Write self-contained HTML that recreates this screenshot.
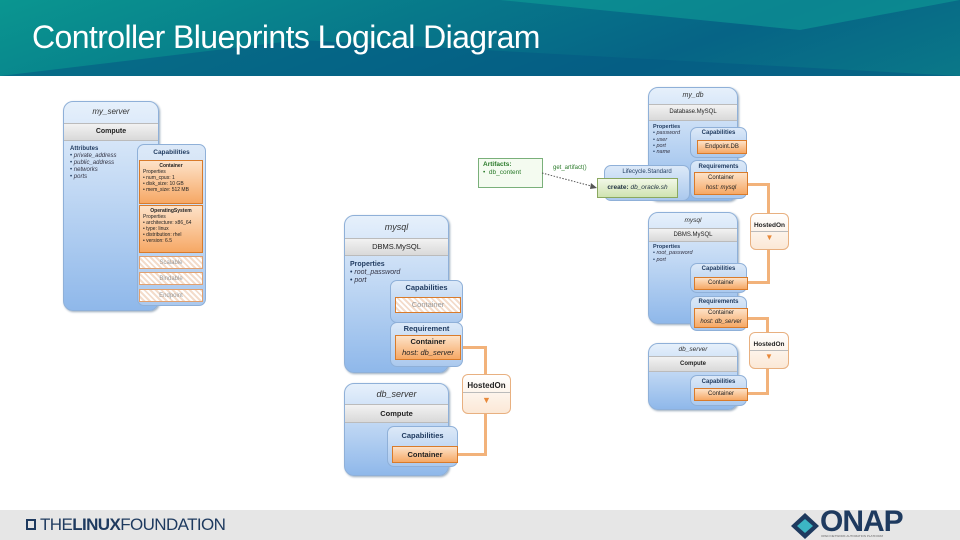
<!DOCTYPE html>
<html><head><meta charset="utf-8"><style>
*{margin:0;padding:0;box-sizing:border-box}
body{width:960px;height:540px;position:relative;overflow:hidden;background:#fff;font-family:"Liberation Sans",sans-serif}
.a{position:absolute}
.node{position:absolute;border:1px solid #8fb0d8;border-radius:10px;background:linear-gradient(#e6f0fb,#8fb8ea);box-shadow:1px 1px 2px #9ab}
.t{position:absolute;left:0;right:0;text-align:center;font-style:italic;color:#333}
.band{position:absolute;left:0;right:0;background:linear-gradient(#f2f2f2,#d9d9d9);border-top:1px solid #bbb;border-bottom:1px solid #bbb;text-align:center;font-weight:bold;color:#222}
.cap{position:absolute;border:1px solid #8fb0d8;border-radius:7px;background:linear-gradient(#dce9f8,#abc9ee)}
.cap b{display:block;text-align:center;color:#1f3a5f}
.or{position:absolute;border:1px solid #d97b2b;background:linear-gradient(#fde2c8,#f6a865);text-align:center;color:#222}
.hat{position:absolute;border:1px solid #e0a070;background:repeating-linear-gradient(45deg,#fff 0 2px,#f3dccb 2px 4px);text-align:center;color:#999}
.ho{position:absolute;border:1px solid #e8b080;border-radius:6px;background:linear-gradient(#fff,#fbe8d6);text-align:center;font-weight:bold;color:#222}
.ln{position:absolute;background:#f2b27a}
.txt{position:absolute;color:#1f3a5f;line-height:1.15}
.txt i{color:#334}
</style></head><body>
<!-- header -->
<div class="a" style="left:0;top:0;width:960px;height:76px;background:linear-gradient(160deg,#0a9690 0%,#07788a 40%,#066486 70%,#0a7888 100%)"></div>
<svg class="a" style="left:0;top:0" width="960" height="76"><polygon points="0,76 300,40 960,76" fill="#055a84" opacity=".6"/><polygon points="500,0 800,30 960,0" fill="#0fa59a" opacity=".5"/></svg>
<div class="a" style="left:32px;top:19px;font-size:32px;color:#fff;letter-spacing:-0.6px">Controller Blueprints Logical Diagram</div>

<!-- my_server -->
<div class="node" style="left:63px;top:101px;width:96px;height:210px">
<div class="t" style="top:5px;font-size:8px">my_server</div>
<div class="band" style="top:21px;height:18px;font-size:7px;line-height:16px">Compute</div>
<div class="txt" style="left:6px;top:44px;font-size:6px"><b>Attributes</b><br>• <i>private_address</i><br>• <i>public_address</i><br>• <i>networks</i><br>• <i>ports</i></div>
</div>
<div class="cap" style="left:137px;top:144px;width:69px;height:162px"><b style="font-size:6.5px;margin-top:4px">Capabilities</b></div>
<div class="or" style="left:139px;top:160px;width:64px;height:44px;text-align:left;font-size:5px;padding:2px 3px;line-height:1.2"><b style="display:block;text-align:center">Container</b>Properties<br>• num_cpus: 1<br>• disk_size: 10 GB<br>• mem_size: 512 MB</div>
<div class="or" style="left:139px;top:205px;width:64px;height:48px;text-align:left;font-size:5px;padding:2px 3px;line-height:1.2"><b style="display:block;text-align:center">OperatingSystem</b>Properties<br>• architecture: x86_64<br>• type: linux<br>• distribution: rhel<br>• version: 6.5</div>
<div class="hat" style="left:139px;top:256px;width:64px;height:13px;font-size:6px;line-height:12px">Scalable</div>
<div class="hat" style="left:139px;top:272px;width:64px;height:13px;font-size:6px;line-height:12px">Bindable</div>
<div class="hat" style="left:139px;top:289px;width:64px;height:13px;font-size:6px;line-height:12px">Endpoint</div>

<!-- middle connectors -->
<div class="ln" style="left:458px;top:346px;width:29px;height:3px"></div>
<div class="ln" style="left:484px;top:346px;width:3px;height:110px"></div>
<div class="ln" style="left:455px;top:453px;width:32px;height:3px"></div>

<!-- mysql mid -->
<div class="node" style="left:344px;top:215px;width:105px;height:158px">
<div class="t" style="top:6px;font-size:9px">mysql</div>
<div class="band" style="top:22px;height:18px;font-size:7.5px;line-height:16px;font-weight:normal">DBMS.MySQL</div>
<div class="txt" style="left:5px;top:45px;font-size:7px"><b>Properties</b><br>• <i>root_password</i><br>• <i>port</i></div>
</div>
<div class="cap" style="left:390px;top:280px;width:73px;height:43px"><b style="font-size:7.5px;margin-top:2px">Capabilities</b></div>
<div class="hat" style="left:395px;top:297px;width:66px;height:16px;font-size:7.5px;line-height:14px;border-color:#d97b2b">Container</div>
<div class="cap" style="left:390px;top:322px;width:73px;height:45px"><b style="font-size:7.5px;margin-top:1px">Requirement</b></div>
<div class="or" style="left:395px;top:335px;width:66px;height:25px;font-size:7.5px;line-height:11px"><b>Container</b><br><i>host: db_server</i></div>

<!-- db_server mid -->
<div class="node" style="left:344px;top:383px;width:105px;height:93px">
<div class="t" style="top:5px;font-size:9px">db_server</div>
<div class="band" style="top:20px;height:19px;font-size:7.5px;line-height:17px">Compute</div>
</div>
<div class="cap" style="left:387px;top:426px;width:71px;height:41px"><b style="font-size:7.5px;margin-top:4px">Capabilities</b></div>
<div class="or" style="left:392px;top:446px;width:66px;height:17px;font-size:7.5px;line-height:15px;font-weight:bold">Container</div>
<div class="ho" style="left:462px;top:374px;width:49px;height:40px;font-size:8px"><div style="border-bottom:1px solid #bbb;padding:6px 0 2px">HostedOn</div><div style="color:#e8893a;font-size:9px;line-height:14px">▼</div></div>

<!-- right connectors -->
<div class="ln" style="left:746px;top:183px;width:24px;height:3px"></div>
<div class="ln" style="left:767px;top:183px;width:3px;height:101px"></div>
<div class="ln" style="left:746px;top:281px;width:24px;height:3px"></div>
<div class="ln" style="left:746px;top:317px;width:22px;height:3px"></div>
<div class="ln" style="left:766px;top:317px;width:3px;height:78px"></div>
<div class="ln" style="left:746px;top:392px;width:23px;height:3px"></div>

<!-- my_db -->
<div class="node" style="left:648px;top:87px;width:90px;height:114px">
<div class="t" style="top:4px;font-size:7px">my_db</div>
<div class="band" style="top:16px;height:17px;font-size:6px;line-height:15px;font-weight:normal">Database.MySQL</div>
<div class="txt" style="left:4px;top:36px;font-size:5.5px"><b>Properties</b><br>• <i>password</i><br>• <i>user</i><br>• <i>port</i><br>• <i>name</i></div>
</div>
<div class="cap" style="left:690px;top:127px;width:57px;height:31px"><b style="font-size:6px;margin-top:2px">Capabilities</b></div>
<div class="or" style="left:697px;top:140px;width:50px;height:14px;font-size:6px;line-height:12px">Endpoint.DB</div>
<div class="cap" style="left:690px;top:160px;width:57px;height:39px"><b style="font-size:6px;margin-top:3px">Requirements</b></div>
<div class="or" style="left:694px;top:172px;width:54px;height:23px;font-size:6px;line-height:10px">Container<br><i>host: mysql</i></div>
<div class="cap" style="left:604px;top:165px;width:86px;height:36px"><b style="font-size:6px;margin-top:3px;font-weight:normal">Lifecycle.Standard</b></div>
<div class="a" style="left:597px;top:178px;width:81px;height:20px;border:1px solid #8aa860;background:linear-gradient(#f2f8e8,#cfe3b0);font-size:6.5px;line-height:18px;text-align:center;color:#234"><b>create:</b> <i>db_oracle.sh</i></div>
<div class="a" style="left:478px;top:158px;width:65px;height:30px;border:1px solid #7ab07a;background:#f4fbf0;font-size:6.5px;color:#2a7a2a;padding:2px 4px;line-height:1.25"><b>Artifacts:</b><br>•&nbsp; db_content</div>
<svg class="a" style="left:540px;top:168px" width="60" height="24"><line x1="2" y1="5" x2="55" y2="19" stroke="#555" stroke-width="1" stroke-dasharray="1.5,1.5"/><polygon points="57,20 51,15 50,21" fill="#555"/></svg>
<div class="a" style="left:553px;top:165px;font-size:6px;color:#2a7a2a">get_artifact()</div>

<!-- mysql right -->
<div class="node" style="left:648px;top:212px;width:90px;height:112px">
<div class="t" style="top:4px;font-size:6.5px">mysql</div>
<div class="band" style="top:15px;height:14px;font-size:6px;line-height:12px;font-weight:normal">DBMS.MySQL</div>
<div class="txt" style="left:4px;top:31px;font-size:5.5px"><b>Properties</b><br>• <i>root_password</i><br>• <i>port</i></div>
</div>
<div class="cap" style="left:690px;top:263px;width:57px;height:30px"><b style="font-size:6px;margin-top:2px">Capabilities</b></div>
<div class="or" style="left:694px;top:277px;width:54px;height:13px;font-size:6px;line-height:11px">Container</div>
<div class="cap" style="left:690px;top:296px;width:57px;height:35px"><b style="font-size:6px;margin-top:2px">Requirements</b></div>
<div class="or" style="left:694px;top:308px;width:54px;height:20px;font-size:6px;line-height:9px">Container<br><i>host: db_server</i></div>
<div class="ho" style="left:750px;top:213px;width:39px;height:37px;font-size:6.5px"><div style="border-bottom:1px solid #bbb;padding:8px 0 2px">HostedOn</div><div style="color:#e8893a;font-size:8px;line-height:12px">▼</div></div>
<div class="ho" style="left:749px;top:332px;width:40px;height:37px;font-size:6.5px"><div style="border-bottom:1px solid #bbb;padding:8px 0 2px">HostedOn</div><div style="color:#e8893a;font-size:8px;line-height:12px">▼</div></div>

<!-- db_server right -->
<div class="node" style="left:648px;top:343px;width:90px;height:67px">
<div class="t" style="top:2px;font-size:6.5px">db_server</div>
<div class="band" style="top:12px;height:16px;font-size:6px;line-height:14px">Compute</div>
</div>
<div class="cap" style="left:690px;top:375px;width:57px;height:31px"><b style="font-size:6px;margin-top:3px">Capabilities</b></div>
<div class="or" style="left:694px;top:388px;width:54px;height:13px;font-size:6px;line-height:11px">Container</div>

<!-- footer -->
<div class="a" style="left:0;top:510px;width:960px;height:30px;background:#e6e6e6"></div>
<div class="a" style="left:26px;top:519px;width:10px;height:11px;border:2px solid #1e3a5f"></div>
<div class="a" style="left:40px;top:515px;font-size:17px;color:#1e3a5f;letter-spacing:-0.6px">THE<b>LINUX</b>FOUNDATION</div>
<svg class="a" style="left:790px;top:512px" width="30" height="28"><polygon points="15,1 29,14 15,27 1,14" fill="#1e3a5f"/><polygon points="15,7 23,14 15,21 7,14" fill="#3cb6c4"/></svg>
<div class="a" style="left:820px;top:508px;font-size:30px;font-weight:bold;color:#1e3a5f;letter-spacing:-1px;line-height:28px">ONAP</div>
<div class="a" style="left:821px;top:534px;font-size:3px;color:#666">OPEN NETWORK AUTOMATION PLATFORM</div>
</body></html>
